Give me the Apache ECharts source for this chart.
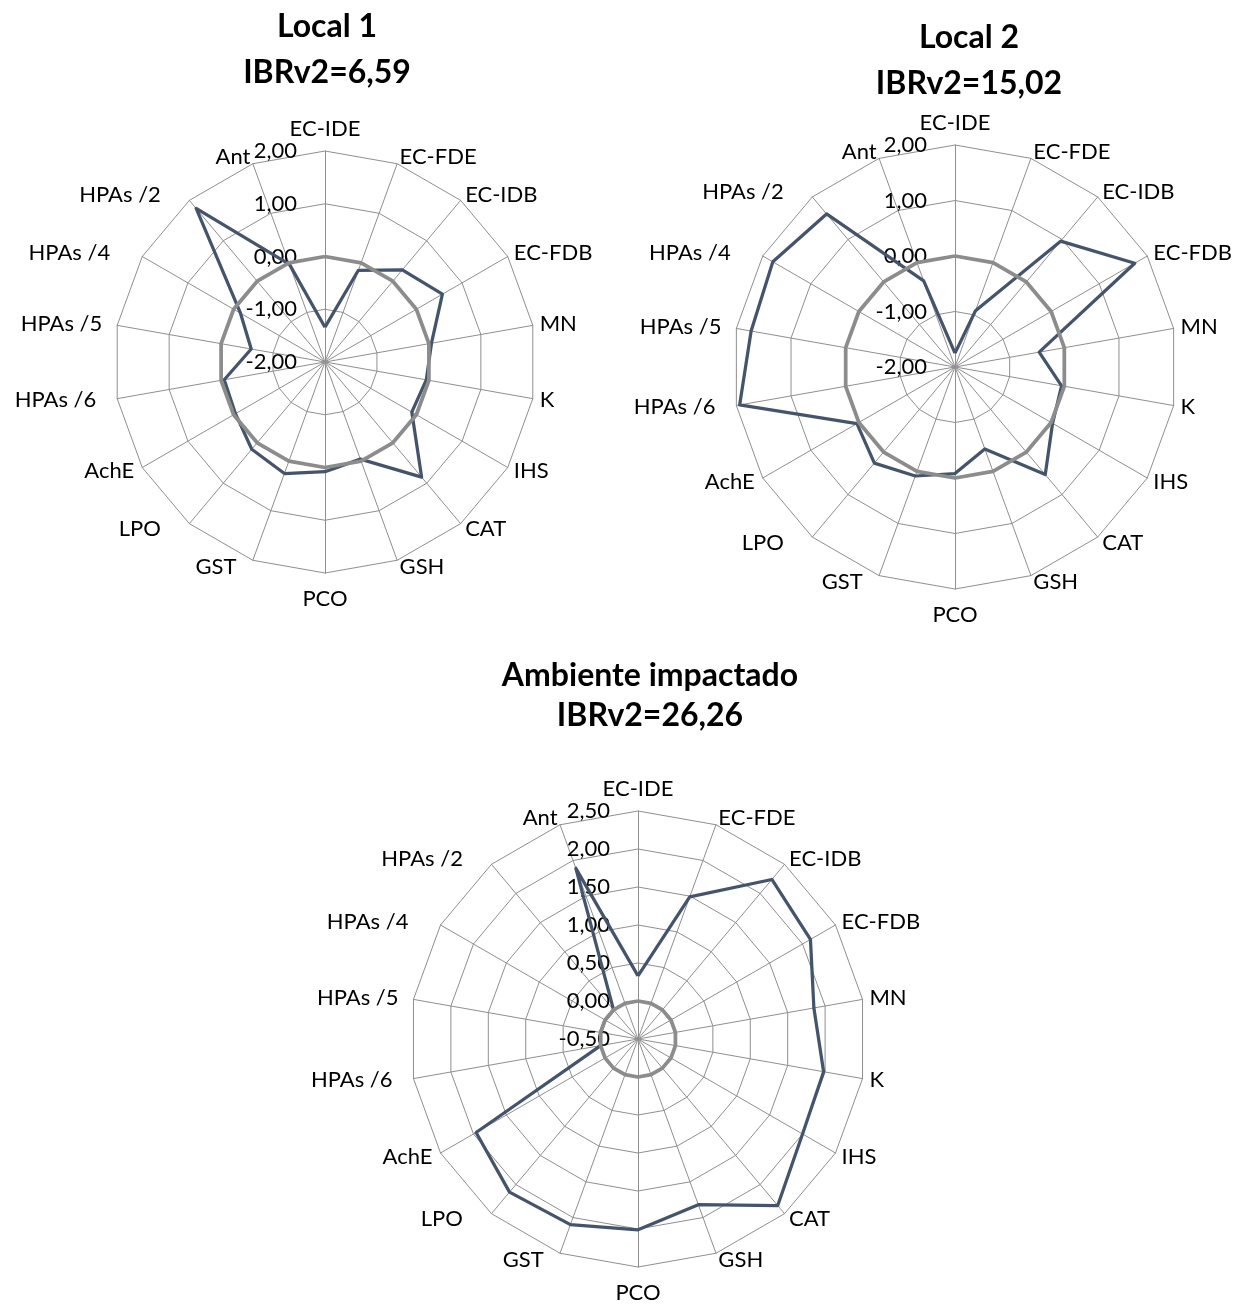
<!DOCTYPE html>
<html>
<head>
<meta charset="utf-8">
<script src="https://cdn.jsdelivr.net/npm/echarts@6/dist/echarts.min.js"></script>
<style>
html,body{margin:0;padding:0;background:#ffffff;}
#chart{width:1241px;height:1304px;}
</style>
</head>
<body>
<div id="chart"></div>
<script>
// ---------- DATA ----------
const categories = ['EC-IDE','EC-FDE','EC-IDB','EC-FDB','MN','K','IHS','CAT','GSH','PCO','GST','LPO','AchE','HPAs /6','HPAs /5','HPAs /4','HPAs /2','Ant'];

const local1Values   = [-1.34, -0.15, 0.28, 0.57, 0.05, -0.05, -0.10, 0.85, -0.04, 0.08, 0.25, 0.16, -0.04, -0.06, -0.58, -0.15, 1.80, -0.03];
const local2Values   = [-1.75, -0.92, 0.96, 1.74, -0.46, -0.05, 0.03, 0.53, -0.43, -0.08, 0.09, 0.26, 0.04, 1.94, 1.73, 1.79, 1.60, -0.35];
const ambienteValues = [0.33, 1.49, 2.24, 2.12, 1.85, 1.98, 2.00, 2.36, 1.82, 2.01, 2.10, 2.13, 1.96, 0.00, 0.00, 0.00, 0.00, 1.89];
const referenceValues = [0, 0, 0, 0, 0, 0, 0, 0, 0, 0, 0, 0, 0, 0, 0, 0, 0, 0];

const titleLines1 = ['Local 1', 'IBRv2=6,59'];
const titleLines2 = ['Local 2', 'IBRv2=15,02'];
const titleLines3 = ['Ambiente impactado', 'IBRv2=26,26'];

const ticksLocal    = [-2.00, -1.00, 0.00, 1.00, 2.00];
const ticksAmbiente = [-0.50, 0.00, 0.50, 1.00, 1.50, 2.00, 2.50];

// ---------- STYLE ----------
const FONT = 'Lato';
const BLUE = '#44546a';
const GREY = '#8c8c8c';
const GRID = '#8f8f8f';

// Excel draws the categories clockwise; ECharts radar goes counter-clockwise.
const cw = arr => [arr[0]].concat(arr.slice(1).reverse());

const fmt = v => (Math.round(v * 100) / 100).toFixed(2).replace('.', ',');

// Excel-like label spacing: [top, right, bottom, left] padding per label
const labelPad = {
  'EC-IDE': [0, 0, 4, 0],
  'PCO': [8, 0, 0, 0],
  'HPAs /2': [0, 24, 0, 0],
  'HPAs /4': [0, 26, 0, 0],
  'HPAs /5': [0, 8, 0, 0],
  'HPAs /6': [0, 14, 0, 0],
  'AchE': [0, 2, 0, 0],
  'LPO': [0, 24, 0, 0],
  'GST': [0, 14, 0, 0]
};

function makeRadar(center, radius, ticks) {
  const mn = ticks[0], mx = ticks[ticks.length - 1];
  const ind = cw(categories).map((name, i) => {
    const o = { name: name, min: mn, max: mx };
    if (i === 0) {
      o.axisLabel = {
        show: true, formatter: fmt, margin: 28, fontSize: 22,
        color: '#000', fontFamily: FONT, padding: [7, 0, 0, 0]
      };
    }
    return o;
  });
  const rich = {};
  categories.forEach((c, i) => {
    rich['p' + i] = { fontSize: 22, fontFamily: FONT, color: '#000', padding: labelPad[c] || [0, 0, 0, 0] };
  });
  return {
    center: center,
    radius: radius,
    startAngle: 90,
    splitNumber: ticks.length - 1,
    shape: 'polygon',
    indicator: ind,
    nameGap: 7,
    axisName: {
      color: '#000', fontSize: 22, fontFamily: FONT,
      formatter: function (name) {
        return '{p' + categories.indexOf(name) + '|' + name + '}';
      },
      rich: rich
    },
    splitLine: { lineStyle: { color: GRID, width: 1 } },
    splitArea: { show: false },
    axisLine: { lineStyle: { color: GRID, width: 1 } },
    axisTick: { show: false },
    axisLabel: { show: false }
  };
}

function makeTitle(lines, x, y, lh) {
  return {
    text: lines.join('\n'),
    left: x, top: y, textAlign: 'center',
    textStyle: { fontFamily: FONT, fontWeight: 'bold', fontSize: 32, color: '#000', lineHeight: lh }
  };
}

function lineSeries(radarIndex, values, color, width, z) {
  return {
    type: 'radar', radarIndex: radarIndex, z: z, silent: true,
    symbol: 'none',
    lineStyle: { color: color, width: width },
    data: [{ value: cw(values) }]
  };
}

const option = {
  backgroundColor: '#ffffff',
  animation: false,
  title: [
    makeTitle(titleLines1, 322, -1, 46),
    makeTitle(titleLines2, 964, 10, 46),
    makeTitle(titleLines3, 645, 651, 40)
  ],
  radar: [
    makeRadar([325, 362], 211, ticksLocal),
    makeRadar([955, 367], 222, ticksLocal),
    makeRadar([638, 1039], 228, ticksAmbiente)
  ],
  series: [
    lineSeries(0, local1Values, BLUE, 3.25, 2),
    lineSeries(0, referenceValues, GREY, 3.75, 3),
    lineSeries(1, local2Values, BLUE, 3.25, 2),
    lineSeries(1, referenceValues, GREY, 3.75, 3),
    lineSeries(2, ambienteValues, BLUE, 3.25, 2),
    lineSeries(2, referenceValues, GREY, 3.75, 3)
  ]
};

const chart = echarts.init(document.getElementById('chart'), null, { renderer: 'canvas' });
chart.setOption(option);
</script>
</body>
</html>
